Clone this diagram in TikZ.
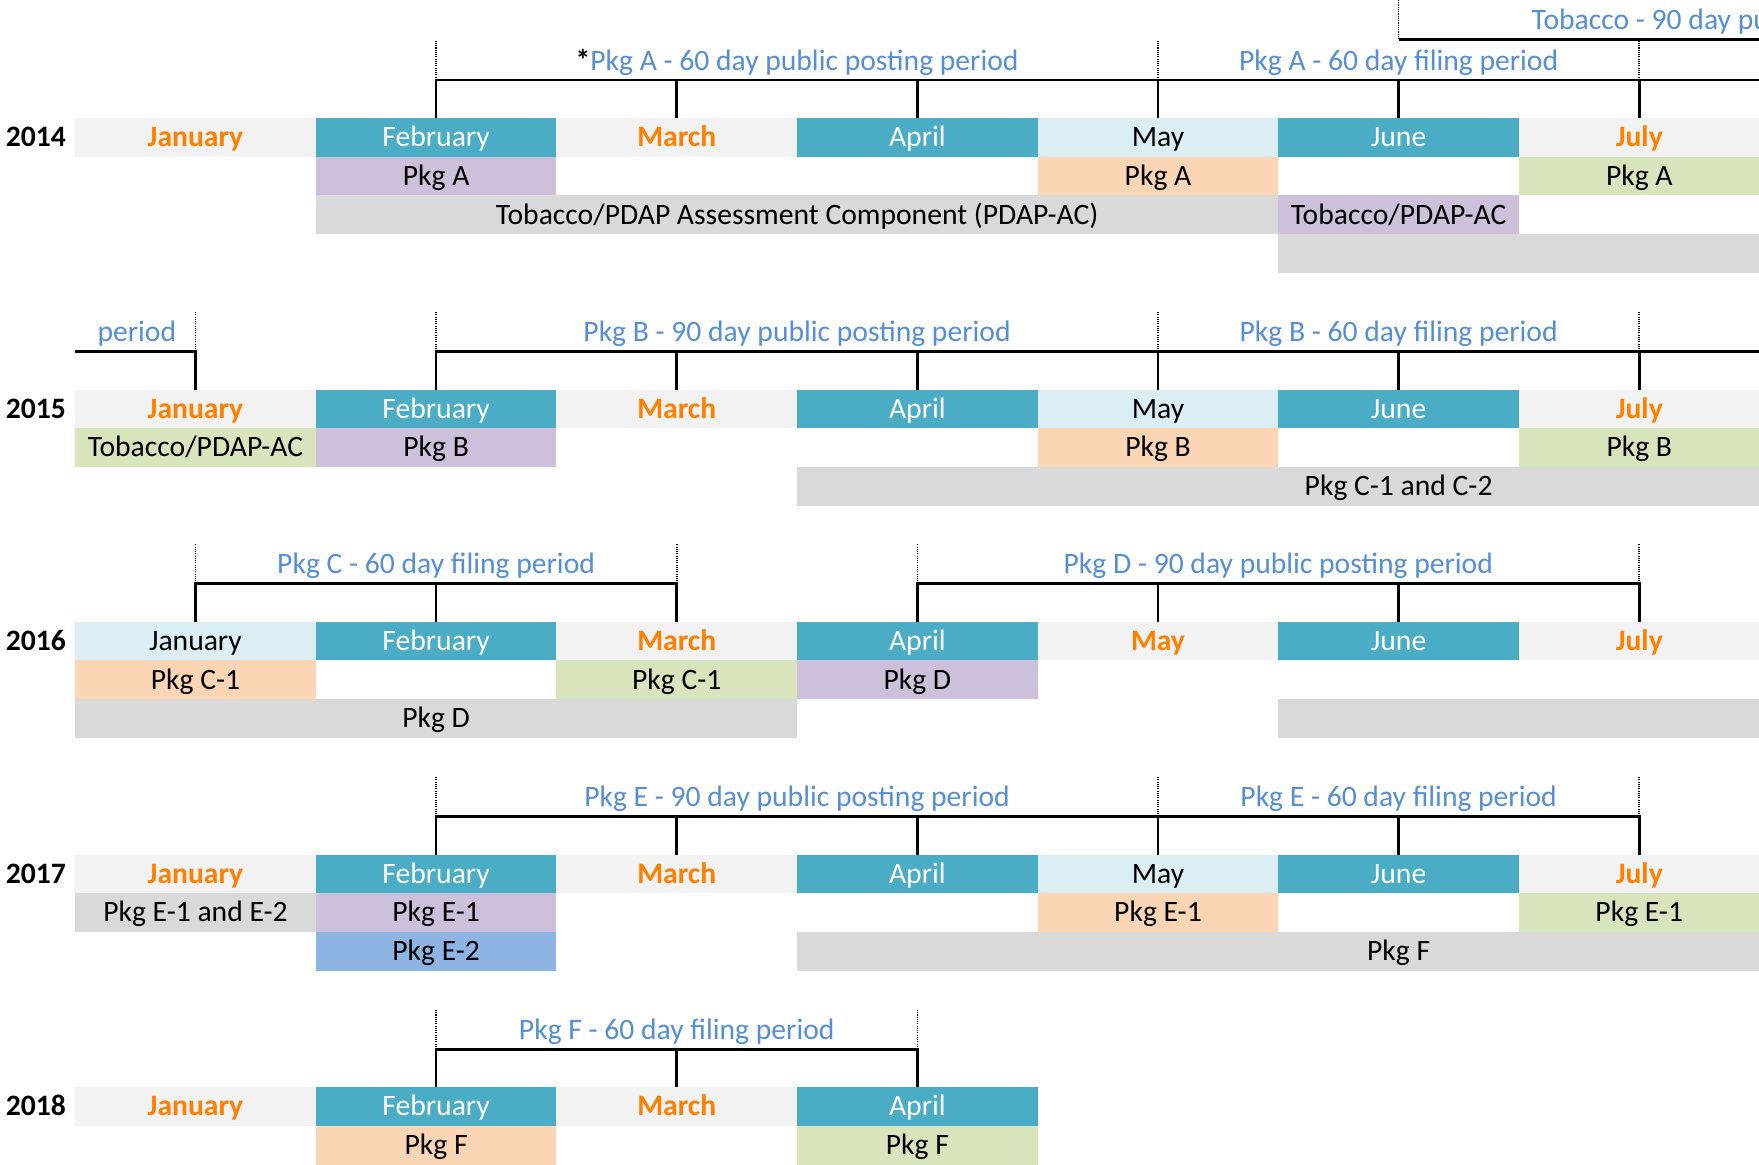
\documentclass[tikz,border=0pt]{standalone}
\usepackage{fontspec}
\setmainfont{Carlito}
\usetikzlibrary{positioning}

\definecolor{cTeal}{HTML}{4BACC6}
\definecolor{cPale}{HTML}{DAEEF3}
\definecolor{cLight}{HTML}{F2F2F2}
\definecolor{cOrange}{HTML}{FF7F00}
\definecolor{cPeach}{HTML}{FCD5B4}
\definecolor{cGreen}{HTML}{D7E4BC}
\definecolor{cPurple}{HTML}{CCC0DA}
\definecolor{cGrey}{HTML}{D9D9D9}
\definecolor{cBlue}{HTML}{8DB4E2}
\definecolor{cPeriod}{HTML}{558ED5}

\tikzset{
  cell/.style={minimum width=107.25pt, minimum height=17.25pt, inner sep=0pt, outer sep=0pt,
    text height=10.6pt, text depth=2.4pt, font=\fontsize{13.2}{15}\selectfont},
  wide/.style={cell, minimum width=#1*107.25pt},
  tealmonth/.style={cell, fill=cTeal, text=white},
  greymonth/.style={cell, fill=cLight, text=cOrange, font=\fontsize{13.2}{15}\selectfont\bfseries},
  palemonth/.style={cell, fill=cPale},
  peachcell/.style={fill=cPeach},
  greencell/.style={fill=cGreen},
  purplecell/.style={fill=cPurple},
  greycell/.style={fill=cGrey},
  bluecell/.style={fill=cBlue},
  tick/.style={line width=1.2pt},
  dots/.style={line width=0.7pt, dash pattern=on 0.5pt off 0.5pt},
  period/.style={text=cPeriod, inner sep=0pt, anchor=base, font=\fontsize{13.2}{15}\selectfont},
  year/.style={inner sep=0pt, text height=10.6pt, text depth=2.4pt, font=\fontsize{13.2}{15}\selectfont\bfseries}
}

\begin{document}
\begin{tikzpicture}[x=0.5pt, y=0.5pt]
\useasboundingbox (0,0) rectangle (1568,1038);
\clip (0,0) rectangle (1568,1038);

% 2014
\node[year] (y14) at (32, 915.5) {2014};
\node[greymonth] (jan14) at (174.25, 915.5) {January};
\node[tealmonth] (feb14) at (388.75, 915.5) {February};
\node[greymonth] (mar14) at (603.25, 915.5) {March};
\node[tealmonth] (apr14) at (817.75, 915.5) {April};
\node[palemonth] (may14) at (1032.25, 915.5) {May};
\node[tealmonth] (jun14) at (1246.75, 915.5) {June};
\node[greymonth] (jul14) at (1461.25, 915.5) {July};
\node[cell, purplecell, below=0pt of feb14] (a1) {Pkg A};
\node[cell, peachcell, below=0pt of may14] (a2) {Pkg A};
\node[cell, greencell, below=0pt of jul14] (a3) {Pkg A};
\node[wide=4, greycell] (pdap14) at (710.5, 846.5) {Tobacco/PDAP Assessment Component (PDAP-AC)};
\node[cell, purplecell, below=17.25pt of jun14] (ac14) {Tobacco/PDAP-AC};
\node[wide=3, greycell, below=17.25pt of a3] (g14) {};

\node[period] (pa14) at (710.5, 975.5) {\textcolor{black}{\textbf{*}}Pkg A - 60 day public posting period};
\node[period] (fa14) at (1246.75, 975.5) {Pkg A - 60 day filing period};
\node[period, anchor=base west] (tob14) at (1365, 1011.5) {Tobacco - 90 day pu};

\coordinate (tob) at (1246.75, 1003);
\coordinate (tobend) at (1568, 1003);
\draw[tick] (tob) -- (tobend);
\draw[dots] (tob) -- ++(0,35);
\coordinate (end14) at (1568, 966.75);
\draw[tick] (feb14.north) |- (end14);
\foreach \m in {mar14,apr14,may14,jun14,jul14} \draw[tick] (\m.north) -- ++(0,34);
\foreach \m in {feb14,may14,jul14} \draw[dots] (\m.north) ++(0,34) -- ++(0,35);

% 2015
\node[year] (y15) at (32, 673.5) {2015};
\node[greymonth] (jan15) at (174.25, 673.5) {January};
\node[tealmonth] (feb15) at (388.75, 673.5) {February};
\node[greymonth] (mar15) at (603.25, 673.5) {March};
\node[tealmonth] (apr15) at (817.75, 673.5) {April};
\node[palemonth] (may15) at (1032.25, 673.5) {May};
\node[tealmonth] (jun15) at (1246.75, 673.5) {June};
\node[greymonth] (jul15) at (1461.25, 673.5) {July};
\node[cell, greencell, below=0pt of jan15] (ac15) {Tobacco/PDAP-AC};
\node[cell, purplecell, below=0pt of feb15] (b1) {Pkg B};
\node[cell, peachcell, below=0pt of may15] (b2) {Pkg B};
\node[cell, greencell, below=0pt of jul15] (b3) {Pkg B};
\node[wide=5, greycell, below=17.25pt of jun15] (c15) {Pkg C-1 and C-2};

\node[period] (tp15) at (122, 733.5) {period};
\node[period] (pb15) at (710.5, 733.5) {Pkg B - 90 day public posting period};
\node[period] (fb15) at (1246.75, 733.5) {Pkg B - 60 day filing period};

\coordinate (start15) at (67, 724.75);
\draw[tick] (start15) -| (jan15.north);
\coordinate (end15) at (1568, 724.75);
\draw[tick] (feb15.north) |- (end15);
\foreach \m in {mar15,apr15,may15,jun15,jul15} \draw[tick] (\m.north) -- ++(0,34);
\foreach \m in {jan15,feb15,may15,jul15} \draw[dots] (\m.north) ++(0,34) -- ++(0,35);

% 2016
\node[year] (y16) at (32, 466.5) {2016};
\node[palemonth] (jan16) at (174.25, 466.5) {January};
\node[tealmonth] (feb16) at (388.75, 466.5) {February};
\node[greymonth] (mar16) at (603.25, 466.5) {March};
\node[tealmonth] (apr16) at (817.75, 466.5) {April};
\node[greymonth] (may16) at (1032.25, 466.5) {May};
\node[tealmonth] (jun16) at (1246.75, 466.5) {June};
\node[greymonth] (jul16) at (1461.25, 466.5) {July};
\node[cell, peachcell, below=0pt of jan16] (c1) {Pkg C-1};
\node[cell, greencell, below=0pt of mar16] (c2) {Pkg C-1};
\node[cell, purplecell, below=0pt of apr16] (d1) {Pkg D};
\node[wide=3, greycell, below=17.25pt of feb16] (d16) {Pkg D};
\node[wide=3, greycell, below=17.25pt of jul16] (g16) {};

\node[period] (fc16) at (388.75, 526.5) {Pkg C - 60 day filing period};
\node[period] (pd16) at (1139.5, 526.5) {Pkg D - 90 day public posting period};

\draw[tick] (jan16.north) -- ++(0,34) -| (mar16.north);
\draw[tick] (feb16.north) -- ++(0,34);
\draw[tick] (apr16.north) -- ++(0,34) -| (jul16.north);
\foreach \m in {may16,jun16} \draw[tick] (\m.north) -- ++(0,34);
\foreach \m in {jan16,mar16,apr16,jul16} \draw[dots] (\m.north) ++(0,34) -- ++(0,35);

% 2017
\node[year] (y17) at (32, 259) {2017};
\node[greymonth] (jan17) at (174.25, 259) {January};
\node[tealmonth] (feb17) at (388.75, 259) {February};
\node[greymonth] (mar17) at (603.25, 259) {March};
\node[tealmonth] (apr17) at (817.75, 259) {April};
\node[palemonth] (may17) at (1032.25, 259) {May};
\node[tealmonth] (jun17) at (1246.75, 259) {June};
\node[greymonth] (jul17) at (1461.25, 259) {July};
\node[cell, greycell, below=0pt of jan17] (e17) {Pkg E-1 and E-2};
\node[cell, purplecell, below=0pt of feb17] (e1) {Pkg E-1};
\node[cell, peachcell, below=0pt of may17] (e2) {Pkg E-1};
\node[cell, greencell, below=0pt of jul17] (e3) {Pkg E-1};
\node[cell, bluecell, below=0pt of e1] (e4) {Pkg E-2};
\node[wide=5, greycell, below=17.25pt of jun17] (f17) {Pkg F};

\node[period] (pe17) at (710.5, 319) {Pkg E - 90 day public posting period};
\node[period] (fe17) at (1246.75, 319) {Pkg E - 60 day filing period};

\draw[tick] (feb17.north) -- ++(0,34) -| (jul17.north);
\foreach \m in {mar17,apr17,may17,jun17} \draw[tick] (\m.north) -- ++(0,34);
\foreach \m in {feb17,may17,jul17} \draw[dots] (\m.north) ++(0,34) -- ++(0,35);

% 2018
\node[year] (y18) at (32, 51.5) {2018};
\node[greymonth] (jan18) at (174.25, 51.5) {January};
\node[tealmonth] (feb18) at (388.75, 51.5) {February};
\node[greymonth] (mar18) at (603.25, 51.5) {March};
\node[tealmonth] (apr18) at (817.75, 51.5) {April};
\node[cell, peachcell, below=0pt of feb18] (f1) {Pkg F};
\node[cell, greencell, below=0pt of apr18] (f2) {Pkg F};

\node[period] (ff18) at (603.25, 111.5) {Pkg F - 60 day filing period};

\draw[tick] (feb18.north) -- ++(0,34) -| (apr18.north);
\draw[tick] (mar18.north) -- ++(0,34);
\foreach \m in {feb18,apr18} \draw[dots] (\m.north) ++(0,34) -- ++(0,35);
\end{tikzpicture}
\end{document}
